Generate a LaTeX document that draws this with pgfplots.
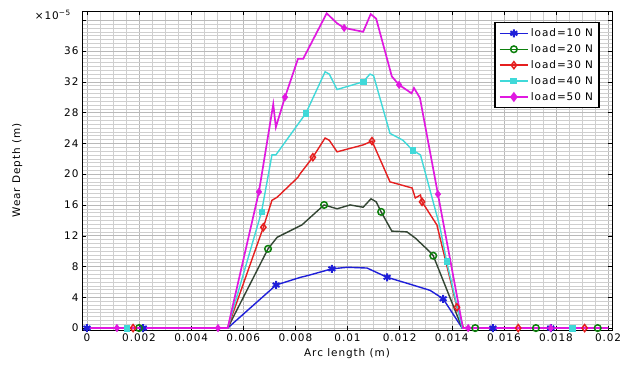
\documentclass[border=0pt]{standalone}
\usepackage{fontspec}
\setmainfont{DejaVu Sans}[LetterSpace=9]
\usepackage{pgfplots}
\pgfplotsset{compat=1.18}
\definecolor{cblue}{rgb}{0.12,0.12,0.85}
\definecolor{cgreenline}{rgb}{0.2,0.27,0.2}
\definecolor{cgreen}{rgb}{0.05,0.5,0.05}
\definecolor{cred}{rgb}{0.9,0.12,0.12}
\definecolor{ccyan}{rgb}{0.25,0.85,0.85}
\definecolor{cmag}{rgb}{0.88,0.1,0.88}
\begin{document}
\begin{tikzpicture}
\begin{axis}[
  scale only axis, width=530bp, height=319bp,
  font=\fontsize{10.5}{12}\selectfont,
  /pgf/number format/assume math mode=true,
  scaled x ticks=false, scaled y ticks=false,
  xmin=-0.00019, xmax=0.02015, ymin=-0.25, ymax=41.2,
  xtick={0,0.002,0.004,0.006,0.008,0.01,0.012,0.014,0.016,0.018,0.02},
  xticklabels={0,0.002,0.004,0.006,0.008,0.01,0.012,0.014,0.016,0.018,0.02},
  ytick={0,4,8,12,16,20,24,28,32,36,40},
  yticklabels={0,4,8,12,16,20,24,28,32,36,},
  minor x tick num=3, minor y tick num=7,
  tick align=inside, major tick length=4bp, minor tick length=0pt,
  tick style={black, thin},
  grid=both,
  major grid style={gray!55, line width=0.5bp},
  minor grid style={gray!38, line width=0.45bp},
  axis line style={black, line width=0.7bp},
  clip=false,
  xlabel={Arc length (m)}, ylabel={Wear Depth (m)},
  every axis x label/.style={at={(axis description cs:0.5,-0.075)}, anchor=center},
  every axis y label/.style={at={(axis description cs:-0.122,0.5)}, rotate=90, anchor=center},
  legend cell align=left,
  legend style={at={(0.977,0.966)}, anchor=north east, draw=black, line width=1.5bp, fill=white, row sep=2.5bp, inner sep=4bp},
  legend image code/.code={\draw[mark repeat=2,mark phase=2] plot coordinates {(0cm,0cm) (0.5cm,0cm) (1.0cm,0cm)};},
]
% load = 10 N
\addplot[cblue, line width=1.4bp, forget plot] coordinates {(0,0) (0.0054,0) (0.00726,5.6) (0.0082,6.6) (0.00845,6.8) (0.0094,7.7) (0.01,7.9) (0.01075,7.8) (0.01152,6.6) (0.0125,5.6) (0.01317,4.9) (0.01367,3.8) (0.0144,0) (0.02,0)};
\addplot[only marks, cblue, mark=asterisk, mark size=4bp, mark options={line width=2bp}, forget plot] coordinates {(0,0) (0.00216,0) (0.00726,5.6) (0.0094,7.7) (0.01152,6.6) (0.01367,3.8) (0.01558,0) (0.0178,0)};
% load = 20 N
\addplot[cgreenline, line width=1.4bp, forget plot] coordinates {(0,0) (0.0054,0) (0.00695,10.3) (0.0073,11.8) (0.00825,13.4) (0.00887,15.3) (0.0091,16.0) (0.0096,15.5) (0.0101,16.0) (0.0106,15.7) (0.0109,16.8) (0.0111,16.4) (0.01129,15.1) (0.0117,12.6) (0.01228,12.5) (0.0126,11.7) (0.0131,10.1) (0.01329,9.4) (0.0144,0) (0.02,0)};
\addplot[only marks, cgreen, mark=o, mark size=3.3bp, mark options={line width=1.5bp}, forget plot] coordinates {(0.002,0) (0.00695,10.3) (0.0091,16.0) (0.01129,15.1) (0.01329,9.4) (0.0149,0) (0.01723,0) (0.0196,0)};
% load = 30 N
\addplot[cred, line width=1.4bp, forget plot] coordinates {(0,0) (0.0054,0) (0.00677,13.1) (0.0071,16.6) (0.0073,17.0) (0.0081,19.6) (0.00817,20.0) (0.00867,22.2) (0.00914,24.7) (0.0093,24.4) (0.0096,22.9) (0.0106,23.8) (0.01094,24.3) (0.01163,19.0) (0.01248,18.2) (0.0126,16.9) (0.0128,17.3) (0.01286,16.4) (0.01343,13.4) (0.0142,2.7) (0.01445,0) (0.02,0)};
\addplot[only marks, cred, mark=diamond, mark size=3.5bp, mark options={line width=1.5bp}, forget plot] coordinates {(0.00177,0) (0.00677,13.1) (0.00867,22.2) (0.01094,24.3) (0.01286,16.4) (0.0142,2.7) (0.01655,0) (0.0191,0)};
% load = 40 N
\addplot[ccyan, line width=1.4bp, forget plot] coordinates {(0,0) (0.0054,0) (0.0067,15.1) (0.0071,22.5) (0.00725,22.5) (0.0084,27.9) (0.00914,33.3) (0.0093,33.0) (0.0096,31.0) (0.0106,32.0) (0.01086,33.0) (0.011,32.8) (0.01163,25.3) (0.01213,24.4) (0.0125,23.1) (0.0128,22.5) (0.01355,13.1) (0.0138,8.7) (0.0144,0) (0.02,0)};
\addplot[only marks, ccyan, mark=square*, mark size=2.7bp, forget plot] coordinates {(0.00153,0) (0.0067,15.1) (0.0084,27.9) (0.0106,32.0) (0.0125,23.1) (0.0138,8.7) (0.01862,0)};
% load = 50 N
\addplot[cmag, line width=1.7bp, forget plot] coordinates {(0,0) (0.0054,0) (0.0066,17.7) (0.00715,29.1) (0.00725,26.1) (0.0076,30.0) (0.0081,35.0) (0.0083,35.0) (0.0092,40.9) (0.0096,39.6) (0.00987,39.0) (0.0106,38.5) (0.01089,40.8) (0.0111,40.2) (0.0117,32.7) (0.01198,31.6) (0.01246,30.5) (0.01255,31.2) (0.01278,29.9) (0.01347,17.4) (0.01443,0) (0.02,0)};
\addplot[only marks, cmag, mark=diamond*, mark size=3.8bp, forget plot] coordinates {(0.00115,0) (0.00503,0) (0.0066,17.7) (0.0076,30.0) (0.00987,39.0) (0.01198,31.6) (0.01347,17.4) (0.01463,0) (0.0178,0)};
% legend
\addlegendimage{cblue, line width=1.4bp, mark=asterisk, mark size=4bp, mark options={line width=2bp}}
\addlegendentry{load=10 N}
\addlegendimage{cgreen, line width=1.4bp, mark=o, mark size=3.3bp, mark options={line width=1.5bp}}
\addlegendentry{load=20 N}
\addlegendimage{cred, line width=1.4bp, mark=diamond, mark size=3.5bp, mark options={line width=1.5bp}}
\addlegendentry{load=30 N}
\addlegendimage{ccyan, line width=1.4bp, mark=square*, mark size=2.7bp}
\addlegendentry{load=40 N}
\addlegendimage{cmag, line width=1.7bp, mark=diamond*, mark size=3.8bp}
\addlegendentry{load=50 N}
\node[anchor=east, inner sep=0pt] at ([xshift=-11bp, yshift=-4bp]rel axis cs:0,1) {×10\textsuperscript{−5}};
\end{axis}
\path ([shift={(-82bp,-35bp)}]current axis.south west) rectangle ([shift={(16bp,11bp)}]current axis.north east);
\end{tikzpicture}
\end{document}
